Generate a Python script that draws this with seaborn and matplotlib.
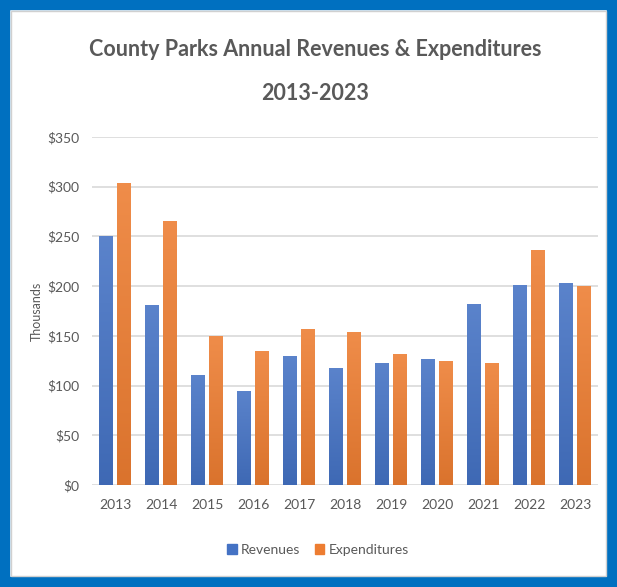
import matplotlib.pyplot as plt
import matplotlib.patches as mpatches
import numpy as np
import pandas as pd
import seaborn as sns

# Values in thousands of dollars
years = ['2013', '2014', '2015', '2016', '2017', '2018', '2019', '2020', '2021', '2022', '2023']
revenues = [250, 181, 111, 95, 130, 118, 123, 127, 182, 201, 203]
expenditures = [304, 266, 150, 135, 157, 154, 132, 125, 123, 236, 200]
series_names = ['Revenues', 'Expenditures']
y_ticks = [0, 50, 100, 150, 200, 250, 300, 350]

df = pd.DataFrame({
    'Year': years * 2,
    'Value': revenues + expenditures,
    'Series': [series_names[0]] * len(years) + [series_names[1]] * len(years),
})

blue = '#4472C4'
orange = '#ED7D31'
text_gray = '#595959'

sns.set_style('white')
plt.rcParams['font.family'] = ['Lato', 'DejaVu Sans']

fig = plt.figure(figsize=(6.17, 5.87), dpi=100)
ax = fig.add_axes([92 / 617, 1 - 485 / 587, (598 - 92) / 617, (485 - 137) / 587])

sns.barplot(data=df, x='Year', y='Value', hue='Series', order=years,
            hue_order=series_names, palette=[blue, orange],
            width=0.76, gap=0.2, saturation=1, legend=False, ax=ax)

# Gradient shading on each bar (lighter at the top)
def shade(hex_color, top_mix):
    c = np.array(plt.matplotlib.colors.to_rgb(hex_color))
    top = c + (1 - c) * top_mix
    bottom = c * 0.92
    t = np.linspace(0, 1, 64)[:, None]
    return top * (1 - t) + bottom * t

grads = {blue: shade(blue, 0.12), orange: shade(orange, 0.12)}
for i, bar in enumerate(ax.patches):
    if bar.get_height() <= 0:
        continue
    x0, w, h = bar.get_x(), bar.get_width(), bar.get_height()
    col = blue if i < len(years) else orange
    img = grads[col][:, None, :]
    im = ax.imshow(img, extent=[x0, x0 + w, 0, h], aspect='auto', zorder=3,
                   interpolation='bilinear')
    im.set_clip_path(bar)
    bar.set_zorder(2)
    bar.set_edgecolor('none')
ax.set_xlim(-0.5, len(years) - 0.5)
ax.set_ylim(0, 350)

ax.set_yticks(y_ticks)
ax.set_yticklabels([f'${v}' for v in y_ticks])
ax.yaxis.grid(True, color='#D9D9D9', linewidth=1.2)
ax.set_axisbelow(True)
for s in ax.spines.values():
    s.set_visible(False)
ax.tick_params(axis='both', length=0, colors=text_gray, labelsize=10, pad=9)
ax.tick_params(axis='x', pad=10)
ax.set_xlabel('')
ax.set_ylabel('Thousands', color=text_gray, fontsize=9, labelpad=3)

fig.text(315 / 617, 1 - 50 / 587, 'County Parks Annual Revenues & Expenditures',
         ha='center', va='center', fontsize=15.5, fontweight='bold', color=text_gray)
fig.text(315 / 617, 1 - 93 / 587, '2013-2023',
         ha='center', va='center', fontsize=15.5, fontweight='bold', color=text_gray)

handles = [mpatches.Patch(color=blue, label=series_names[0]),
           mpatches.Patch(color=orange, label=series_names[1])]
leg = fig.legend(handles=handles, loc='center', bbox_to_anchor=(318 / 617, 1 - 550 / 587),
                 ncol=2, frameon=False, fontsize=10, handlelength=0.7, handleheight=0.7,
                 handletextpad=0.3, columnspacing=1.0)
for t in leg.get_texts():
    t.set_color(text_gray)

# Blue frame around the whole chart
fig.patches.append(mpatches.Rectangle((5 / 617, 5 / 587), 1 - 10 / 617, 1 - 10 / 587,
                                      transform=fig.transFigure, fill=False,
                                      edgecolor='#0070C0', linewidth=7.5))
fig.patches.append(mpatches.Rectangle((11 / 617, 11 / 587), 1 - 22 / 617, 1 - 22 / 587,
                                      transform=fig.transFigure, fill=False,
                                      edgecolor='#D0D0D0', linewidth=1))

fig.savefig('out.png', dpi=100, facecolor='white')
